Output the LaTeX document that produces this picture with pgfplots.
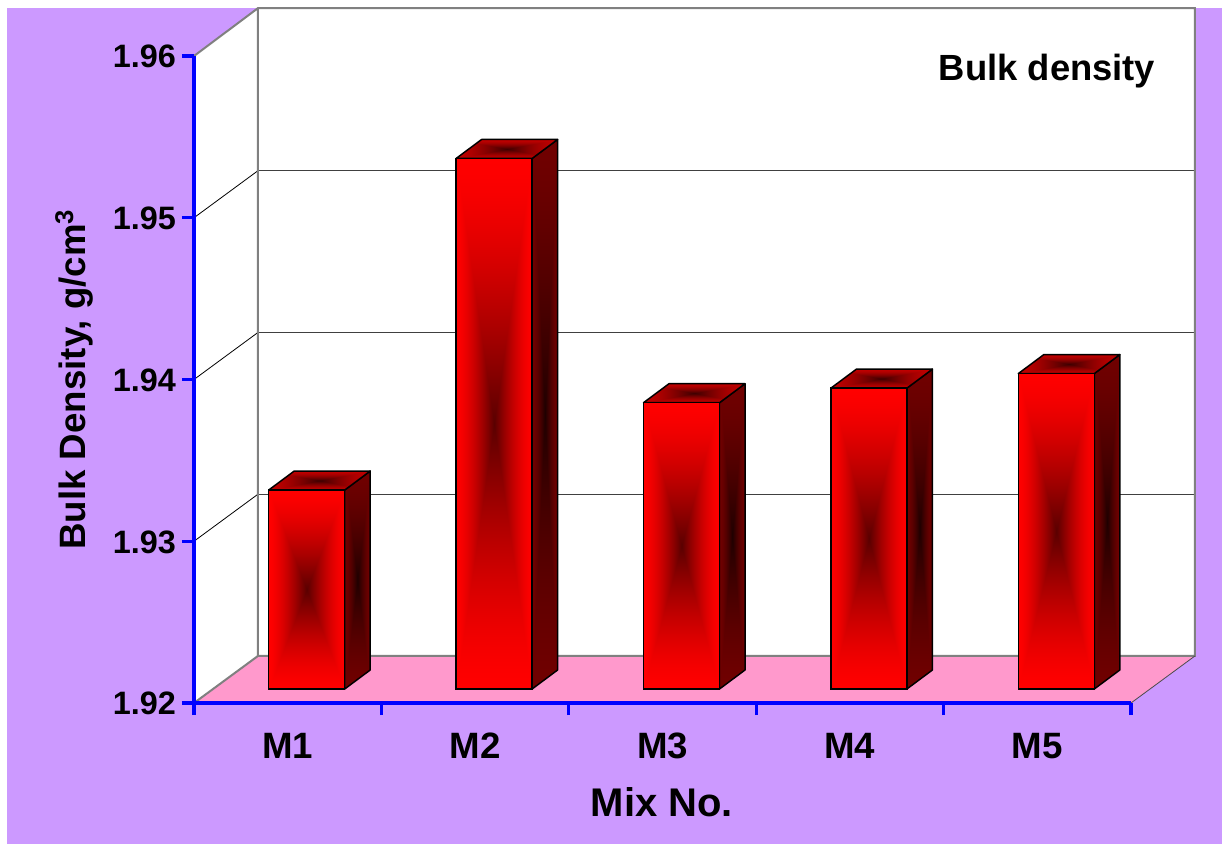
\documentclass[border=0pt]{standalone}
\usepackage{fontspec}
\setmainfont{Liberation Sans}
\usepackage{pgfplots}
\pgfplotsset{compat=1.18}

\definecolor{lilac}{HTML}{CC99FF}
\definecolor{floorpink}{HTML}{FF99CC}
\definecolor{wallgray}{HTML}{808080}

% Rectangular path gradients: dark in the middle, bright at the edges of the face.
% A shaded path covers the central 50bp square of the 100bp shading.
\pgfdeclarefunctionalshading{barfront}{\pgfpointorigin}{\pgfpoint{100bp}{100bp}}{}{
  50 sub abs 25 div exch 50 sub abs 25 div
  2 copy lt {exch} if pop
  dup 1 gt {pop 1} if
  1 exch sub dup sqrt mul 0.65 mul 1 exch sub 0 0
}
\pgfdeclarefunctionalshading{barside}{\pgfpointorigin}{\pgfpoint{100bp}{100bp}}{}{
  50 sub abs 25 div exch 50 sub abs 25 div
  2 copy lt {exch} if pop
  dup 1 gt {pop 1} if
  1 exch sub dup sqrt mul 0.32 mul 0.44 exch sub 0 0
}
\pgfdeclarefunctionalshading{bartop}{\pgfpointorigin}{\pgfpoint{100bp}{100bp}}{}{
  50 sub abs 25 div exch 50 sub abs 25 div
  2 copy lt {exch} if pop
  dup 1 gt {pop 1} if
  1 exch sub dup sqrt mul 0.52 mul 0.76 exch sub 0 0
}

\pgfplotsset{
  chartframe/.style={
    scale only axis, width=702.75pt, height=485.25pt,
    xmin=0, xmax=5, ymin=1.92, ymax=1.96, clip=false,
  },
  wall/.style={no marks, sharp plot, draw=wallgray, line width=1.5pt},
  rib/.style={no marks, sharp plot, draw=black, line width=0.6pt},
  backrule/.style={no marks, sharp plot, draw=black!75, line width=0.7pt},
  face/.style={no marks, sharp plot, draw=black, line width=1.1pt, line join=round},
  frontface/.style={ybar, bar width=57pt, draw=black, line width=1.1pt, shade, shading=barfront},
}

\begin{document}
\begin{tikzpicture}
  \useasboundingbox (0,0) rectangle (916.5pt,633pt);
  \fill[white] (0,0) rectangle (916.5pt,633pt);
  \fill[lilac] (5.25pt,0pt) rectangle (916.5pt,627pt);

  % Chart box: side wall, back wall, floor and the value rules on them.
  \begin{axis}[
    chartframe,
    at={(145.5pt,105.75pt)}, anchor=south west,
    axis on top,
    axis lines=left,
    axis line style={-, blue, line width=2.4pt},
    tick align=outside,
    major tick length=9pt,
    tick style={blue, line width=2.4pt},
    xtick={0,1,2,3,4,5},
    x tick label as interval,
    xticklabels={M1,M2,M3,M4,M5},
    ytick={1.92,1.93,1.94,1.95,1.96},
    /pgf/number format/assume math mode=true,
    /pgf/number format/fixed,
    /pgf/number format/precision=2,
    /pgf/number format/fixed zerofill,
    yticklabel style={font=\fontsize{24.3}{26}\bfseries\selectfont, xshift=-1pt, yshift=-0.6pt},
    xticklabel style={font=\fontsize{27.5}{29}\bfseries\selectfont, yshift=-10pt},
    xlabel={Mix No.},
    xlabel style={font=\fontsize{30}{33}\bfseries\selectfont,
      at={(axis description cs:0.4995,-0.153)}, anchor=center},
    ylabel={Bulk Density, g/cm\textsuperscript{3}},
    ylabel style={font=\fontsize{27.5}{30}\bfseries\selectfont,
      at={(axis description cs:-0.128,0.5)}, anchor=center},
  ]
    % walls and floor
    \addplot[no marks, sharp plot, fill=white, draw=none] coordinates
      {(0,1.96) (0.3415,1.96296) (0.3415,1.92291) (0,1.92) (0,1.96)} -- cycle;
    \addplot[no marks, sharp plot, fill=white, draw=none] coordinates
      {(0.3415,1.96296) (5.3415,1.96296) (5.3415,1.92291) (0.3415,1.92291) (0.3415,1.96296)} -- cycle;
    \addplot[no marks, sharp plot, fill=floorpink, draw=none] coordinates
      {(0,1.92) (0.3415,1.92291) (5.3415,1.92291) (5,1.92) (0,1.92)} -- cycle;
    % rules along the side wall
    \addplot[rib] coordinates {(0,1.93) (0.3415,1.93291)};
    \addplot[rib] coordinates {(0,1.94) (0.3415,1.94291)};
    \addplot[rib] coordinates {(0,1.95) (0.3415,1.95291)};
    % rules along the back wall
    \addplot[backrule] coordinates {(0.3415,1.93291) (5.3415,1.93291)};
    \addplot[backrule] coordinates {(0.3415,1.94291) (5.3415,1.94291)};
    \addplot[backrule] coordinates {(0.3415,1.95291) (5.3415,1.95291)};
    % outline of the box
    \addplot[wall] coordinates {(0,1.96) (0.3415,1.96296) (5.3415,1.96296) (5.3415,1.92291) (0.3415,1.92291) (0.3415,1.96296)};
    \addplot[wall] coordinates {(0,1.92) (0.3415,1.92291)};
    \addplot[rib, draw=black!70] coordinates {(5,1.92) (5.3415,1.92291)};
    \node[font=\fontsize{27.3}{30}\bfseries\selectfont] at (axis cs:4.552,1.95905) {Bulk density};
  \end{axis}

  % Bars, standing in the middle of the box depth; one path per face,
  % so that each face has its own gradient.
  \begin{axis}[
    chartframe, hide axis,
    at={(159.75pt,116.25pt)}, anchor=south west,
  ]
    % M1
    \addplot[face, shade, shading=barside] coordinates
      {(0.7028,1.92) (0.839,1.921175) (0.839,1.933475) (0.7028,1.9323) (0.7028,1.92)} -- cycle;
    \addplot[face, shade, shading=bartop] coordinates
      {(0.2972,1.9323) (0.7028,1.9323) (0.839,1.933475) (0.4334,1.933475) (0.2972,1.9323)} -- cycle;
    \addplot[frontface] coordinates {(0.5,1.9323)};
    % M2
    \addplot[face, shade, shading=barside] coordinates
      {(1.7028,1.92) (1.839,1.921175) (1.839,1.953975) (1.7028,1.9528) (1.7028,1.92)} -- cycle;
    \addplot[face, shade, shading=bartop] coordinates
      {(1.2972,1.9528) (1.7028,1.9528) (1.839,1.953975) (1.4334,1.953975) (1.2972,1.9528)} -- cycle;
    \addplot[frontface] coordinates {(1.5,1.9528)};
    % M3
    \addplot[face, shade, shading=barside] coordinates
      {(2.7028,1.92) (2.839,1.921175) (2.839,1.938875) (2.7028,1.9377) (2.7028,1.92)} -- cycle;
    \addplot[face, shade, shading=bartop] coordinates
      {(2.2972,1.9377) (2.7028,1.9377) (2.839,1.938875) (2.4334,1.938875) (2.2972,1.9377)} -- cycle;
    \addplot[frontface] coordinates {(2.5,1.9377)};
    % M4
    \addplot[face, shade, shading=barside] coordinates
      {(3.7028,1.92) (3.839,1.921175) (3.839,1.939775) (3.7028,1.9386) (3.7028,1.92)} -- cycle;
    \addplot[face, shade, shading=bartop] coordinates
      {(3.2972,1.9386) (3.7028,1.9386) (3.839,1.939775) (3.4334,1.939775) (3.2972,1.9386)} -- cycle;
    \addplot[frontface] coordinates {(3.5,1.9386)};
    % M5
    \addplot[face, shade, shading=barside] coordinates
      {(4.7028,1.92) (4.839,1.921175) (4.839,1.940675) (4.7028,1.9395) (4.7028,1.92)} -- cycle;
    \addplot[face, shade, shading=bartop] coordinates
      {(4.2972,1.9395) (4.7028,1.9395) (4.839,1.940675) (4.4334,1.940675) (4.2972,1.9395)} -- cycle;
    \addplot[frontface] coordinates {(4.5,1.9395)};
  \end{axis}
\end{tikzpicture}
\end{document}
